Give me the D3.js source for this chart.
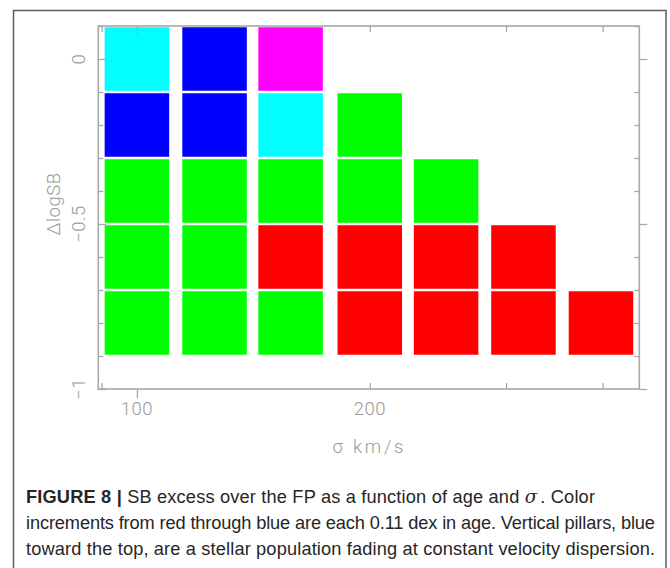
<!DOCTYPE html>
<html>
<head>
<meta charset="utf-8">
<script src="https://cdn.jsdelivr.net/npm/d3@7"></script>
<style>
  html, body { margin: 0; padding: 0; background: #fff; }
  svg { display: block; }
</style>
</head>
<body>
<svg id="chart" width="670" height="568"></svg>
<script>
// σ of each column (km/s), 0.1 dex apart
const sigmaColumns = [100, 126, 158, 200, 251, 316, 398];
// upper edge of each ΔlogSB bin, top bin first; every bin is 0.2 dex tall
const sbBinTops = [0.1, -0.1, -0.3, -0.5, -0.7];
const sbBinHeight = 0.2;
// age step in each cell (0 = red, 1 = green, 2 = cyan, 3 = blue, 4 = magenta); null = no cell
const ageSteps = [
  [2, 3, 1, 1, 1],
  [3, 3, 1, 1, 1],
  [4, 2, 1, 0, 1],
  [null, 1, 1, 0, 0],
  [null, null, 1, 0, 0],
  [null, null, null, 0, 0],
  [null, null, null, null, 0]
];
const stepColors = ["#ff0000", "#00ff00", "#00ffff", "#0000ff", "#ff00ff"];

// axis ticks
const xTicks = [90, 100, 200, 300, 400];
const xMajorTicks = [100];
const xTickLabels = [100, 200];
const yTicks = [0.1, 0, -0.1, -0.2, -0.3, -0.4, -0.5, -0.6, -0.7, -0.8, -0.9, -1];
const yMajorTicks = [0, -0.5, -1];
const yTickLabels = ["0", "−0.5", "−1"];

const captionLines = [
  "increments from red through blue are each 0.11 dex in age. Vertical pillars, blue",
  "toward the top, are a stellar population fading at constant velocity dispersion."
];

const svg = d3.select("#chart");
svg.append("rect").attr("width", 670).attr("height", 568).attr("fill", "#fff");

// outer figure frame
svg.append("rect")
  .attr("x", 13.5).attr("y", 10.5)
  .attr("width", 652.5).attr("height", 600)
  .attr("fill", "none").attr("stroke", "#5c5c5c").attr("stroke-width", 1.5);

const plot = { left: 98.3, right: 639.3, top: 26, bottom: 389 };

const x = d3.scaleLog().domain([89.14, 446.1]).range([plot.left, plot.right]);
const y = d3.scaleLinear().domain([-1, 0.1]).range([plot.bottom, plot.top]);

// cells
const halfDex = 0.0417;
const inset = 1.25;
const cells = [];
sigmaColumns.forEach((s, i) => {
  ageSteps[i].forEach((a, j) => {
    if (a !== null) cells.push({ sigma: s, top: sbBinTops[j], step: a });
  });
});

svg.append("g").selectAll("rect").data(cells).join("rect")
  .attr("x", d => x(d.sigma / Math.pow(10, halfDex)))
  .attr("width", d => x(d.sigma * Math.pow(10, halfDex)) - x(d.sigma / Math.pow(10, halfDex)))
  .attr("y", d => y(d.top) + inset)
  .attr("height", d => y(d.top - sbBinHeight) - y(d.top) - 2 * inset)
  .attr("fill", d => stepColors[d.step]);

// axes: ticks point inward on all four sides
const axisColor = "#a8a8a8";
function styleAxis(g, majors, majorLen) {
  g.select(".domain").remove();
  g.selectAll(".tick line").attr("stroke", axisColor).attr("stroke-width", 1.3);
  g.selectAll(".tick text").remove();
  g.selectAll(".tick").each(function (d) {
    if (majors.some(m => Math.abs(m - d) < 1e-9)) {
      const ln = d3.select(this).select("line");
      if (ln.attr("y2") !== null && +ln.attr("y2") !== 0) ln.attr("y2", Math.sign(+ln.attr("y2")) * majorLen);
      if (ln.attr("x2") !== null && +ln.attr("x2") !== 0) ln.attr("x2", Math.sign(+ln.attr("x2")) * majorLen);
    }
  });
}

svg.append("g").attr("transform", `translate(0,${plot.bottom})`)
  .call(d3.axisBottom(x).tickValues(xTicks).tickSize(-6))
  .call(g => styleAxis(g, xMajorTicks, -9));
svg.append("g").attr("transform", `translate(0,${plot.top})`)
  .call(d3.axisTop(x).tickValues(xTicks).tickSize(-6))
  .call(g => styleAxis(g, xMajorTicks, 9));
svg.append("g").attr("transform", `translate(${plot.left},0)`)
  .call(d3.axisLeft(y).tickValues(yTicks).tickSize(-5))
  .call(g => styleAxis(g, yMajorTicks, 8));
svg.append("g").attr("transform", `translate(${plot.right},0)`)
  .call(d3.axisRight(y).tickValues(yTicks).tickSize(-5))
  .call(g => styleAxis(g, yMajorTicks, -8));

// plot box
svg.append("rect")
  .attr("x", plot.left).attr("y", plot.top)
  .attr("width", plot.right - plot.left).attr("height", plot.bottom - plot.top)
  .attr("fill", "none").attr("stroke", axisColor).attr("stroke-width", 1.6);

const labelFont = "Roboto, 'DejaVu Sans', sans-serif";
const labelColor = "#9a9a9a";

// x tick labels
svg.append("g").selectAll("text").data(xTickLabels).join("text")
  .attr("x", d => x(d)).attr("y", 415)
  .attr("text-anchor", "middle")
  .attr("font-family", labelFont).attr("font-weight", 300)
  .attr("font-size", 18.5).attr("fill", labelColor)
  .attr("letter-spacing", 0.5)
  .text(d => d);

// y tick labels, rotated
svg.append("g").selectAll("text").data(yMajorTicks).join("text")
  .attr("transform", d => `translate(84.5,${y(d)}) rotate(-90)`)
  .attr("text-anchor", "middle")
  .attr("font-family", labelFont).attr("font-weight", 300)
  .attr("font-size", 18.5).attr("fill", labelColor)
  .attr("letter-spacing", 0.5)
  .text((d, i) => yTickLabels[i]);

// axis titles
svg.append("text")
  .attr("x", 368).attr("y", 453)
  .attr("text-anchor", "middle")
  .attr("font-family", labelFont).attr("font-weight", 300)
  .attr("font-size", 18.5).attr("fill", labelColor)
  .attr("textLength", 71).attr("lengthAdjust", "spacing")
  .text("σ km/s");

svg.append("text")
  .attr("transform", "translate(60,204) rotate(-90)")
  .attr("text-anchor", "middle")
  .attr("font-family", labelFont).attr("font-weight", 300)
  .attr("font-size", 18.5).attr("fill", labelColor)
  .attr("letter-spacing", 0.5)
  .text("ΔlogSB");

// caption
const capFont = "'Liberation Sans', Arial, sans-serif";
const capX = 26;
const capBase = [503, 529, 555];
const capColor = "#262626";
let capSize = 16;

const cap = svg.append("g").attr("font-family", capFont).attr("fill", capColor);
const l1 = cap.append("text").attr("x", capX).attr("y", capBase[0]);
l1.append("tspan").attr("font-weight", "bold").text("FIGURE 8 | ");
l1.append("tspan").text("SB excess over the FP as a function of age and ");
l1.append("tspan").attr("font-style", "italic").attr("font-family", "'DejaVu Serif', serif").text("σ");
l1.append("tspan").attr("dx", 3).text(". Color");
const l2 = cap.append("text").attr("x", capX).attr("y", capBase[1]).text(captionLines[0]);
const l3 = cap.append("text").attr("x", capX).attr("y", capBase[2]).text(captionLines[1]);

cap.selectAll("text").attr("font-size", capSize);
const w2 = l2.node().getComputedTextLength();
const w3 = l3.node().getComputedTextLength();
const scale = ((655 - capX) / w2 + (655 - capX) / w3) / 2;
capSize = capSize * scale;
cap.selectAll("text").attr("font-size", capSize);
l1.attr("textLength", 595 - capX).attr("lengthAdjust", "spacing");
l2.attr("textLength", 655 - capX).attr("lengthAdjust", "spacing");
l3.attr("textLength", 655 - capX).attr("lengthAdjust", "spacing");
</script>
</body>
</html>
